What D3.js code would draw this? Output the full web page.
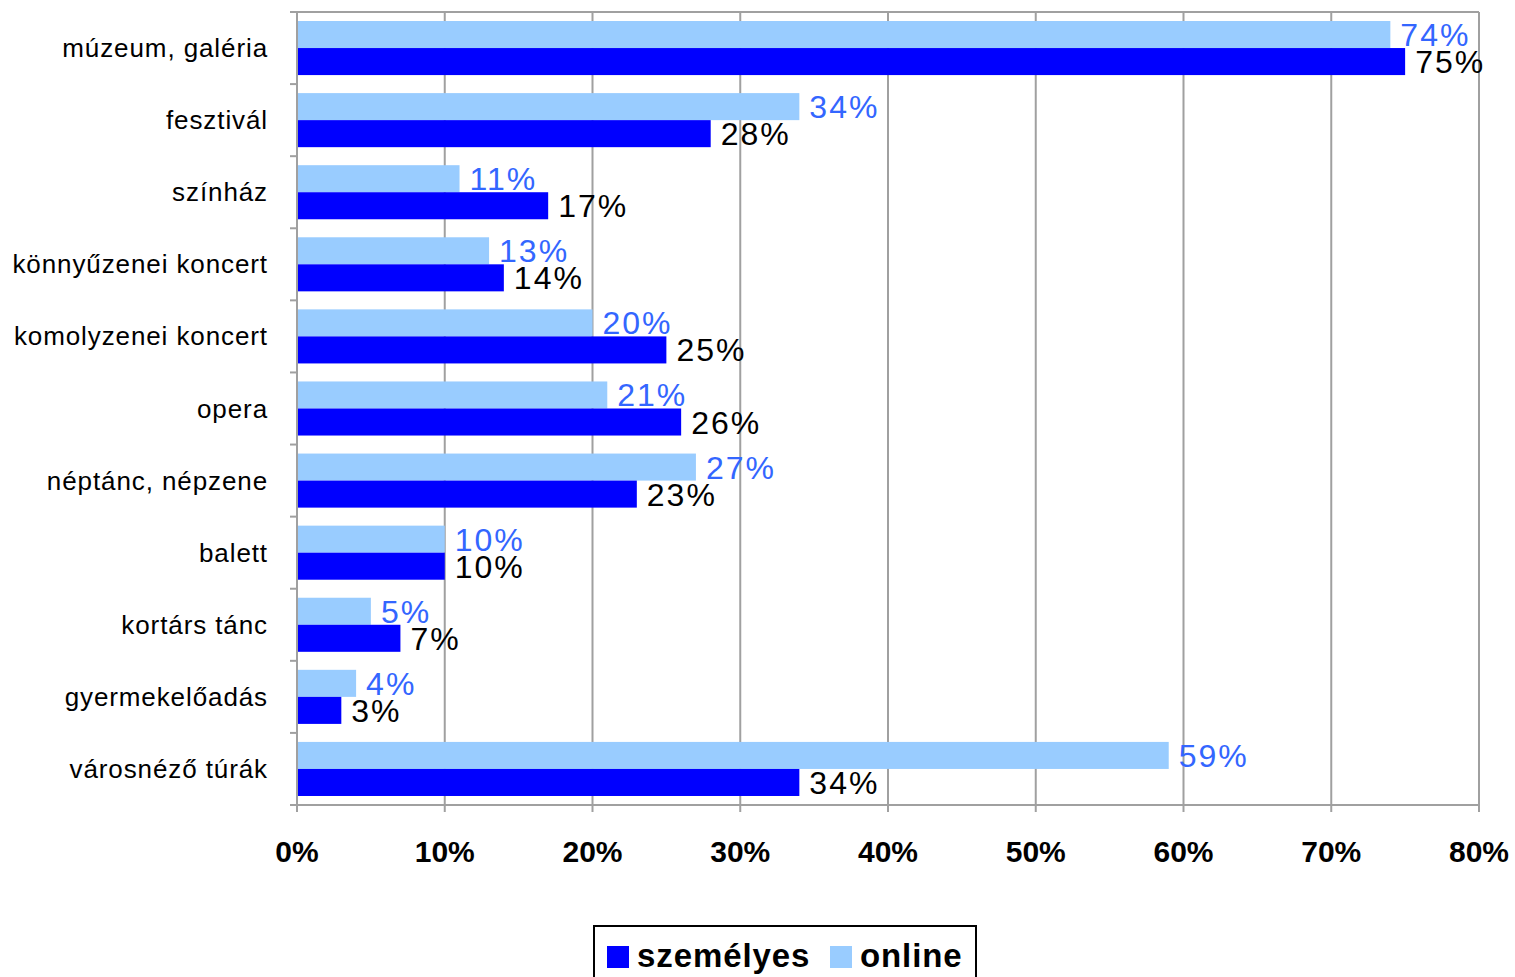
<!DOCTYPE html>
<html><head><meta charset="utf-8">
<script src="https://cdn.jsdelivr.net/npm/d3@7"></script>
<style>
html,body{margin:0;padding:0;background:#fff;}
svg{display:block;font-family:"Liberation Sans",Arial,sans-serif;}
</style></head>
<body>
<svg id="chart" width="1515" height="977"></svg>
<script>
const categories = ["múzeum, galéria","fesztivál","színház","könnyűzenei koncert","komolyzenei koncert","opera","néptánc, népzene","balett","kortárs tánc","gyermekelőadás","városnéző túrák"];
const szemelyes = [75,28,17,14,25,26,23,10,7,3,34];
const online = [74,34,11,13,20,21,27,10,5,4,59];
const xTicks = [0,10,20,30,40,50,60,70,80];
const seriesNames = ["személyes","online"];
const colors = {"személyes":"#0000FF","online":"#99CCFF"};
const labelColors = {"személyes":"#000000","online":"#3366FF"};

(function(){
const svg = d3.select("#chart");
const pL=297, pR=1479, pT=12, pB=805;
const x = d3.scaleLinear().domain([0,80]).range([pL,pR]);
const y = d3.scaleBand().domain(categories).range([pT,pB]).paddingInner(0.25).paddingOuter(0.125);
const yAll = d3.scaleBand().domain(categories).range([pT,pB]);
const sub = d3.scaleBand().domain(["online","személyes"]).range([0,y.bandwidth()]);

const grid="#A0A0A0";
svg.append("g").selectAll("line").data(xTicks.slice(1)).join("line")
  .attr("x1",d=>x(d)).attr("x2",d=>x(d)).attr("y1",pT).attr("y2",pB)
  .attr("stroke",grid).attr("stroke-width",2);
svg.append("line").attr("x1",pL).attr("x2",pR).attr("y1",pT).attr("y2",pT).attr("stroke",grid).attr("stroke-width",2);

const rows = categories.map((c,i)=>({c, s:szemelyes[i], o:online[i]}));
const g = svg.append("g");
rows.forEach(r=>{
  const by = y(r.c);
  [["online",r.o],["személyes",r.s]].forEach(([k,v])=>{
    g.append("rect").attr("x",x(0)).attr("y",by+sub(k)).attr("width",x(v)-x(0)).attr("height",sub.bandwidth()).attr("fill",colors[k]);
  });
});
rows.forEach(r=>{
  const by = y(r.c);
  [["online",r.o],["személyes",r.s]].forEach(([k,v])=>{
    g.append("text").attr("x",x(v)+10).attr("y",by+sub(k)+sub.bandwidth()/2+11.5)
      .attr("font-size",32).attr("letter-spacing",2).attr("fill",labelColors[k]).text(v+"%");
  });
});

svg.append("line").attr("x1",pL).attr("x2",pL).attr("y1",pT).attr("y2",pB+7).attr("stroke",grid).attr("stroke-width",2);
svg.append("line").attr("x1",pL-7).attr("x2",pR).attr("y1",pB).attr("y2",pB).attr("stroke",grid).attr("stroke-width",2);
const bounds = categories.map(c=>yAll(c)).concat([pB]);
svg.append("g").selectAll("line").data(bounds).join("line")
  .attr("x1",pL-7).attr("x2",pL).attr("y1",d=>d).attr("y2",d=>d).attr("stroke",grid).attr("stroke-width",2);
svg.append("g").selectAll("line").data(xTicks).join("line")
  .attr("x1",d=>x(d)).attr("x2",d=>x(d)).attr("y1",pB).attr("y2",pB+7).attr("stroke",grid).attr("stroke-width",2);
svg.append("g").selectAll("text").data(categories).join("text")
  .attr("x",268).attr("y",d=>yAll(d)+yAll.bandwidth()/2+9).attr("text-anchor","end")
  .attr("font-size",26).attr("letter-spacing",0.9).attr("fill","#000").text(d=>d);
svg.append("g").selectAll("text").data(xTicks).join("text")
  .attr("x",d=>x(d)).attr("y",862).attr("text-anchor","middle")
  .attr("font-size",30).attr("font-weight","bold").attr("fill","#000").text(d=>d+"%");

const lg = svg.append("g");
lg.append("rect").attr("x",594).attr("y",926).attr("width",382).attr("height",70).attr("fill","#fff").attr("stroke","#000").attr("stroke-width",2);
const items=[{k:"személyes",mx:607,tx:637},{k:"online",mx:830,tx:860}];
items.forEach(it=>{
  lg.append("rect").attr("x",it.mx).attr("y",946).attr("width",22).attr("height",22).attr("fill",colors[it.k]);
  lg.append("text").attr("x",it.tx).attr("y",967).attr("font-size",33).attr("letter-spacing",0.9).attr("font-weight","bold").attr("fill","#000").text(it.k);
});
})();
</script>
</body></html>
